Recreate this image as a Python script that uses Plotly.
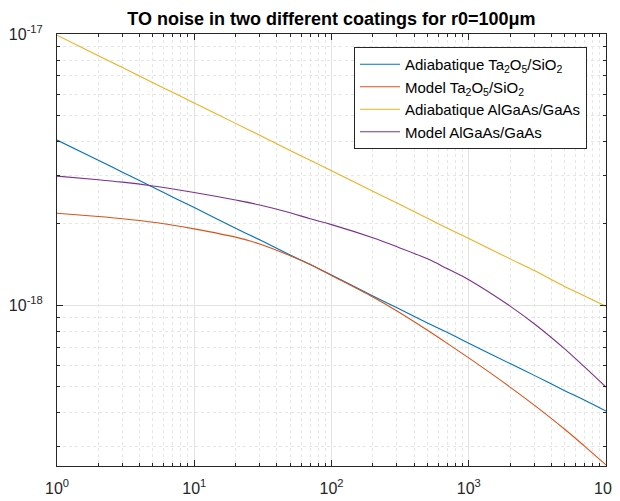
import plotly.graph_objects as go

# Frequencies (x)
freq = [1, 2, 3, 5, 7, 10, 20, 30, 50, 70, 100, 200, 300, 500, 700,
        1000, 2000, 3000, 5000, 7000, 10000]

adiab_ta = [4.06e-18, 3.42e-18, 3.09e-18, 2.72e-18, 2.50e-18, 2.29e-18, 1.92e-18,
            1.74e-18, 1.53e-18, 1.41e-18, 1.29e-18, 1.08e-18, 9.77e-19, 8.59e-19,
            7.91e-19, 7.23e-19, 6.08e-19, 5.50e-19, 4.83e-19, 4.45e-19, 4.06e-19]

model_ta = [2.18e-18, 2.12e-18, 2.08e-18, 2.02e-18, 1.97e-18, 1.91e-18, 1.78e-18,
            1.68e-18, 1.52e-18, 1.41e-18, 1.285e-18, 1.07e-18, 9.50e-19, 8.07e-19,
            7.21e-19, 6.38e-19, 4.98e-19, 4.27e-19, 3.48e-19, 3.01e-19, 2.57e-19]

adiab_al = [9.9e-18, 8.32e-18, 7.52e-18, 6.61e-18, 6.08e-18, 5.56e-18, 4.68e-18,
            4.23e-18, 3.72e-18, 3.42e-18, 3.13e-18, 2.63e-18, 2.38e-18, 2.09e-18,
            1.92e-18, 1.76e-18, 1.48e-18, 1.34e-18, 1.17e-18, 1.08e-18, 9.89e-19]

model_al = [2.99e-18, 2.90e-18, 2.84e-18, 2.75e-18, 2.68e-18, 2.60e-18, 2.44e-18,
            2.34e-18, 2.19e-18, 2.08e-18, 1.98e-18, 1.77e-18, 1.64e-18, 1.48e-18,
            1.36e-18, 1.24e-18, 9.91e-19, 8.53e-19, 6.89e-19, 5.90e-19, 4.98e-19]

series_names = ["Adiabatique Ta<sub>2</sub>O<sub>5</sub>/SiO<sub>2</sub>",
                "Model Ta<sub>2</sub>O<sub>5</sub>/SiO<sub>2</sub>",
                "Adiabatique AlGaAs/GaAs",
                "Model AlGaAs/GaAs"]
series_vals = [adiab_ta, model_ta, adiab_al, model_al]
colors = ["#0072BD", "#D95319", "#EDB120", "#7E2F8E"]

x_tickvals = [1, 10, 100, 1000, 10000]
x_ticktext = ["10<sup>0</sup>", "10<sup>1</sup>", "10<sup>2</sup>", "10<sup>3</sup>", "10<sup>4</sup>"]
y_tickvals = [1e-18, 1e-17]
y_ticktext = ["10<sup>-18</sup>", "10<sup>-17</sup>"]

x_minor = [m * 10 ** d for d in range(4) for m in range(2, 10)]
y_minor = [m * 1e-19 for m in range(3, 10)] + [m * 1e-18 for m in range(2, 10)]

FONT = "Liberation Sans, Arial, sans-serif"

fig = go.Figure()
for name, vals, c in zip(series_names, series_vals, colors):
    fig.add_trace(go.Scatter(x=freq, y=vals, mode="lines", name=name,
                             line=dict(color=c, width=1.1, shape="spline", smoothing=1.0)))

axis_common = dict(
    type="log", showline=True, linecolor="#262626", linewidth=1, mirror="allticks",
    ticks="inside", ticklen=6, tickcolor="#262626", showgrid=True,
    gridcolor="#e3e3e3", gridwidth=1, zeroline=False, automargin=False,
    tickfont=dict(family=FONT, size=16, color="#262626"),
)

fig.update_xaxes(range=[0, 4], tickmode="array", tickvals=x_tickvals, ticktext=x_ticktext,
                 minor=dict(tickvals=x_minor, ticks="inside", ticklen=3, tickcolor="#262626",
                            showgrid=True, gridcolor="#e6e6e6", griddash="dot", gridwidth=1),
                 ticklabelstandoff=8,
                 **axis_common)
fig.update_yaxes(range=[-18.594, -17], tickmode="array", tickvals=y_tickvals, ticktext=y_ticktext,
                 minor=dict(tickvals=y_minor, ticks="inside", ticklen=3, tickcolor="#262626",
                            showgrid=True, gridcolor="#e6e6e6", griddash="dot", gridwidth=1),
                 ticklabelstandoff=10,
                 **axis_common)

# page body has an 8px margin, so the figure is placed 8px in from the top-left
fig.update_layout(
    width=612, height=493,
    margin=dict(l=49, r=14, t=26, b=35),
    paper_bgcolor="white", plot_bgcolor="white",
    title=dict(text="<b>TO noise in two different coatings for r0=100μm</b>",
               x=(49 + 598) / 2 / 612, xanchor="center", y=1 - 10.5 / 493, yanchor="middle",
               font=dict(family=FONT, size=18, color="black")),
    legend=dict(x=(354 - 57) / 549, y=(466 - 47) / 432, xanchor="left", yanchor="top",
                bgcolor="white", bordercolor="#262626", borderwidth=1,
                font=dict(family=FONT, size=15, color="black"),
                tracegroupgap=0, itemwidth=40),
    showlegend=True,
)

fig.write_html("out.html")
